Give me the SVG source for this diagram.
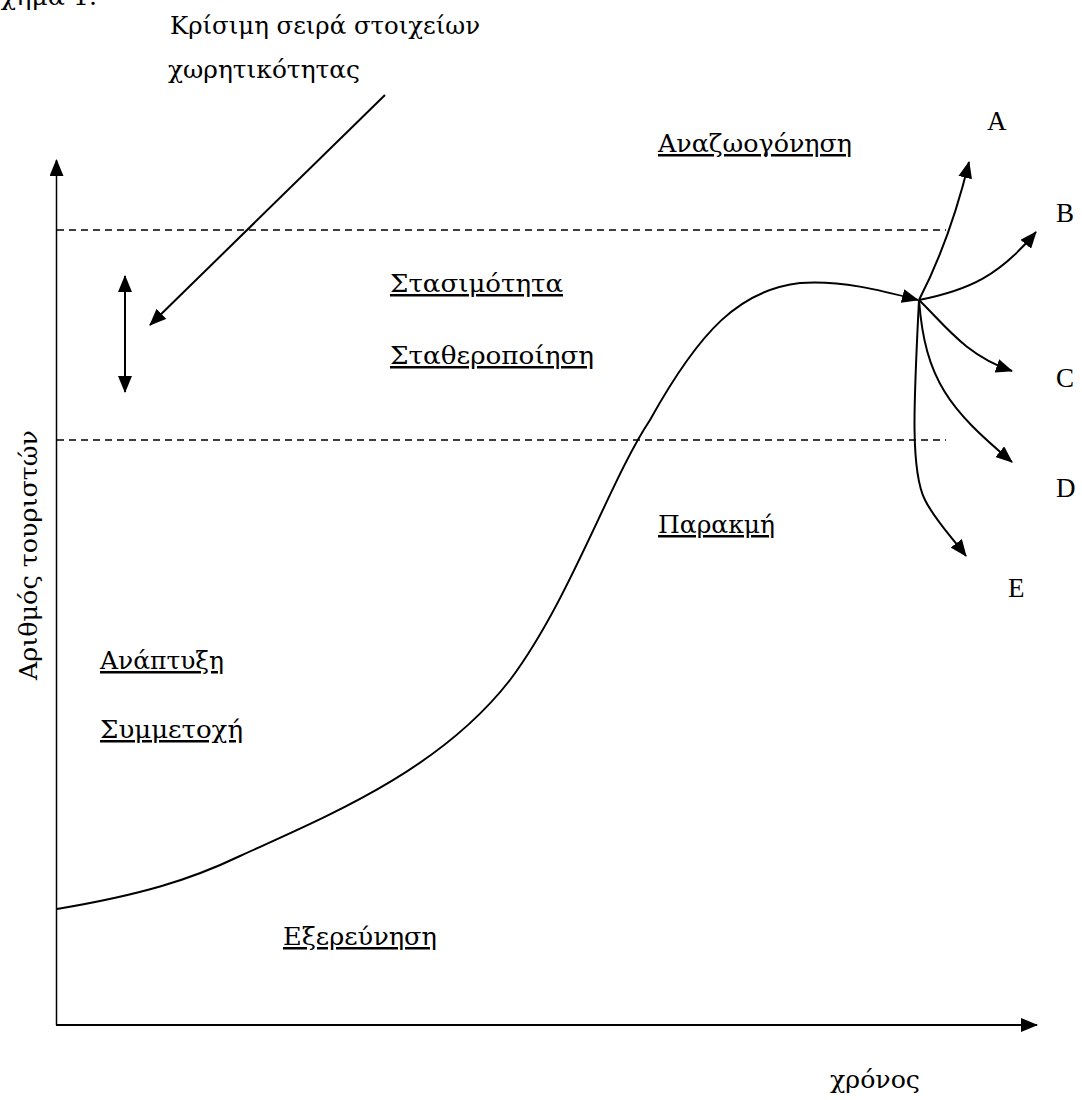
<svg xmlns="http://www.w3.org/2000/svg" width="1082" height="1100" viewBox="0 0 1082 1100">
<style>
text{font-family:"Liberation Serif","Times New Roman",serif;font-size:27px;fill:#000}
.g{font-family:"DejaVu Serif","Liberation Serif",serif;font-size:25px}
.u{text-decoration:underline}
.ln{fill:none;stroke:#000;stroke-width:2}
.dash{fill:none;stroke:#000;stroke-width:1.3;stroke-dasharray:7,5}
</style>
<defs>
<marker id="ah" markerUnits="userSpaceOnUse" markerWidth="18" markerHeight="14" refX="16" refY="7" orient="auto-start-reverse">
<path d="M0,0 L17,7 L0,14 z" fill="#000"/>
</marker>
</defs>
<rect width="1082" height="1100" fill="#fff"/>
<g id="axes">
<line x1="56.5" y1="1025" x2="56.5" y2="160" class="ln" style="stroke-width:1.5" marker-end="url(#ah)"/>
<line x1="56" y1="1025" x2="1037" y2="1025" class="ln" marker-end="url(#ah)"/>
</g>
<g id="levels">
<line x1="57" y1="230" x2="946" y2="230" class="dash"/>
<line x1="57" y1="440" x2="946" y2="440" class="dash"/>
</g>
<g id="connectors">
<path id="curve" class="ln" d="M57,909 C140,895 190,880 240,856 C330,815 440,770 510,680 C570,600 610,480 650,420 C700,330 740,290 800,283 C840,280 880,290 918,300" marker-end="url(#ah)"/>
<path id="branchA" class="ln" d="M919,300 Q950,240 969,162" marker-end="url(#ah)"/>
<path id="branchB" class="ln" d="M919,300 C970,290 1000,275 1036,232" marker-end="url(#ah)"/>
<path id="branchC" class="ln" d="M919,300 C945,325 965,355 1012,371" marker-end="url(#ah)"/>
<path id="branchD" class="ln" d="M919,300 C925,380 950,410 1012,462" marker-end="url(#ah)"/>
<path id="branchE" class="ln" d="M919,300 C914,400 910,470 925,500 C935,520 950,535 966,556" marker-end="url(#ah)"/>
<line id="leader" class="ln" x1="385" y1="95" x2="150" y2="325" marker-end="url(#ah)"/>
<line id="range" class="ln" x1="125" y1="392" x2="125" y2="276" marker-start="url(#ah)" marker-end="url(#ah)"/>
</g>
<g id="labels">
<text class="g" x="-17" y="5" textLength="114" lengthAdjust="spacingAndGlyphs">Σχήμα 1.</text>
<text id="critical" class="g" x="170" y="34" textLength="310" lengthAdjust="spacingAndGlyphs">Κρίσιμη σειρά στοιχείων</text>
<text id="critical2" class="g" x="168" y="78" textLength="192" lengthAdjust="spacingAndGlyphs">χωρητικότητας</text>
<text id="rejuv" class="g u" x="658" y="152" textLength="194" lengthAdjust="spacingAndGlyphs">Αναζωογόνηση</text>
<text id="stag" class="g u" x="390" y="292" textLength="173" lengthAdjust="spacingAndGlyphs">Στασιμότητα</text>
<text id="consol" class="g u" x="390" y="364" textLength="204" lengthAdjust="spacingAndGlyphs">Σταθεροποίηση</text>
<text id="decline" class="g u" x="658" y="533" textLength="117" lengthAdjust="spacingAndGlyphs">Παρακμή</text>
<text id="devel" class="g u" x="100" y="669" textLength="124" lengthAdjust="spacingAndGlyphs">Ανάπτυξη</text>
<text id="involve" class="g u" x="100" y="738" textLength="143" lengthAdjust="spacingAndGlyphs">Συμμετοχή</text>
<text id="explor" class="g u" x="283" y="945" textLength="154" lengthAdjust="spacingAndGlyphs">Εξερεύνηση</text>
<text id="time" class="g" x="830" y="1088" textLength="90" lengthAdjust="spacingAndGlyphs">χρόνος</text>
<text id="ylab" class="g" transform="translate(37,555) rotate(-90)" x="-125" textLength="250" lengthAdjust="spacingAndGlyphs">Αριθμός τουριστών</text>
<text x="987" y="130">A</text>
<text x="1056" y="222">B</text>
<text x="1056" y="387">C</text>
<text x="1056" y="497">D</text>
<text x="1008" y="597">E</text>
</g>
</svg>
